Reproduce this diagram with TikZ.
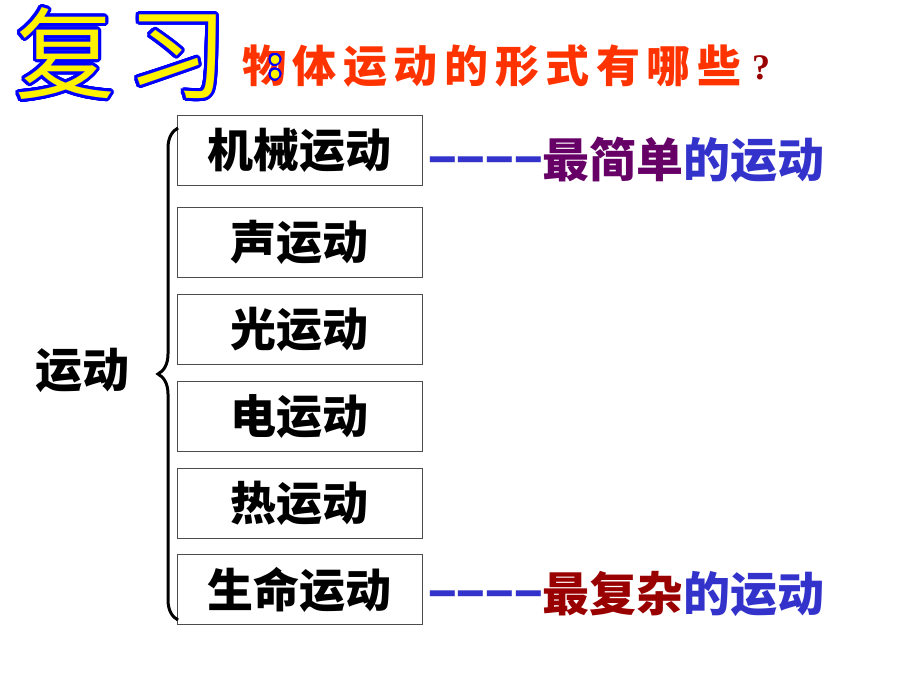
\documentclass[tikz,border=0pt]{standalone}
\usepackage{fontspec}
\usepackage{contour}
\newfontfamily\cjk{Noto Sans CJK SC}
\newfontfamily\cjksp{Noto Sans CJK SC}[LetterSpace=15]
\setmainfont{Liberation Serif}
\usetikzlibrary{decorations.pathreplacing}
\definecolor{ttl}{HTML}{FF3300}
\definecolor{blu}{HTML}{3333CC}
\definecolor{pur}{HTML}{660066}
\definecolor{drd}{HTML}{990000}
\begin{document}
\begin{tikzpicture}[x=1pt,y=-1pt,
 box/.style={draw=black!70,line width=0.8pt,minimum width=245pt,minimum height=70pt,inner sep=0pt,font=\cjk\bfseries\fontsize{46}{46}\selectfont},
 lab/.style={anchor=west,inner sep=0pt,font=\cjk\bfseries\fontsize{47}{47}\selectfont}]
\useasboundingbox (0,0) rectangle (920,690);
\contournumber{32}
\contourlength{3pt}
\node[anchor=west,inner sep=0pt,font=\cjk\fontsize{100}{100}\selectfont] (fx) at (15,55) {\contour{blue}{\textcolor{yellow}{复\hspace{12pt}习}}};
\node[anchor=west,inner sep=0pt,font=\cjksp\bfseries\fontsize{44}{44}\selectfont,text=ttl] (t) at (242,66) {物体运动的形式有哪些};
\node[anchor=west,inner sep=0pt,font=\cjk\bfseries\fontsize{40}{40}\selectfont] (col) at (268,68) {\contourlength{2pt}\contour{blue}{\textcolor{yellow}{:}}};
\node[anchor=west,inner sep=0pt,font=\bfseries\fontsize{36}{36}\selectfont,text=drd] (q) at (752,68) {?};
\node[box] (b1) at (299.5,150.5) {机械运动};
\node[box] (b2) at (299.5,242.5) {声运动};
\node[box] (b3) at (299.5,329.5) {光运动};
\node[box] (b4) at (299.5,416.5) {电运动};
\node[box] (b5) at (299.5,503.5) {热运动};
\node[box] (b6) at (299.5,589.5) {生命运动};
\node[lab] (yd) at (35,370) {运动};
\coordinate (bt) at (178,128);
\coordinate (bb) at (178,620);
\draw[line width=3pt,decorate,decoration={brace,amplitude=20pt,aspect=0.5}] (bb) -- (bt);
\node[lab] (d1) at (428,160) {\textcolor{blu}{−−−−}\textcolor{pur}{最简单}\textcolor{blu}{的运动}};
\node[lab] (d2) at (428,594) {\textcolor{blu}{−−−−}\textcolor{drd}{最复杂}\textcolor{blu}{的运动}};
\end{tikzpicture}
\end{document}
